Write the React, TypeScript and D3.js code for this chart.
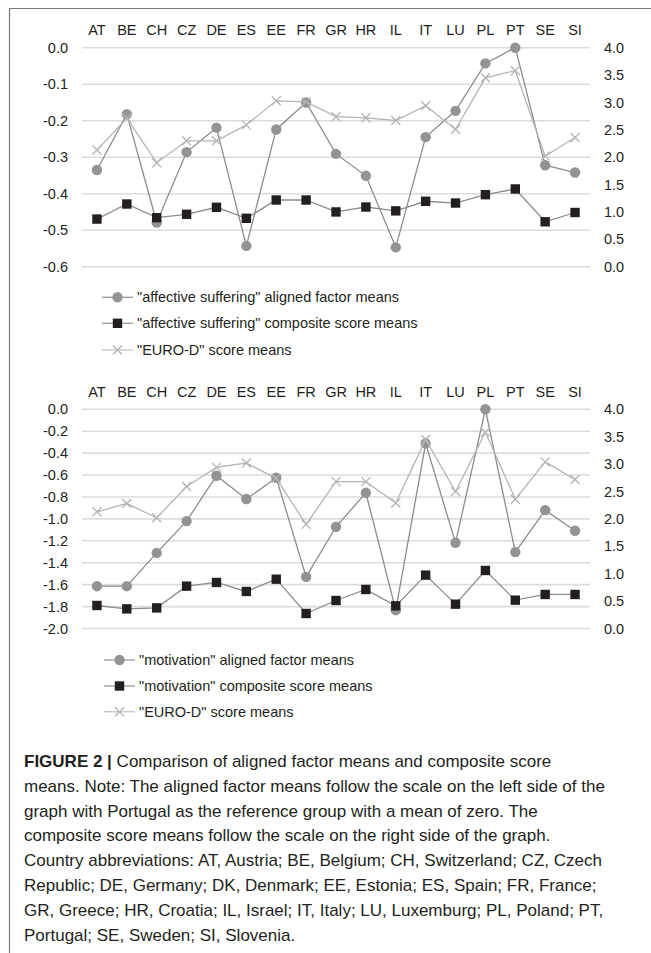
import React from 'react';
import * as d3 from 'd3';

const countries = ['AT', 'BE', 'CH', 'CZ', 'DE', 'ES', 'EE', 'FR', 'GR', 'HR', 'IL', 'IT', 'LU', 'PL', 'PT', 'SE', 'SI'];

// panel 1: "affective suffering"
const affFactor = [-0.335, -0.182, -0.479, -0.286, -0.219, -0.543, -0.224, -0.15, -0.291, -0.351, -0.547, -0.245, -0.173, -0.043, 0, -0.322, -0.342];
const affComposite = [0.87, 1.145, 0.895, 0.957, 1.085, 0.884, 1.218, 1.218, 1.0, 1.09, 1.02, 1.195, 1.163, 1.315, 1.42, 0.82, 0.99];
const affEuroD = [2.13, 2.71, 1.9, 2.3, 2.3, 2.59, 3.03, 3.01, 2.74, 2.72, 2.67, 2.94, 2.51, 3.45, 3.58, 2.02, 2.36];

// panel 2: "motivation"
const motFactor = [-1.614, -1.614, -1.31, -1.02, -0.606, -0.819, -0.625, -1.529, -1.072, -0.762, -1.833, -0.311, -1.218, 0, -1.303, -0.92, -1.108];
const motComposite = [0.42, 0.358, 0.376, 0.773, 0.84, 0.676, 0.9, 0.274, 0.511, 0.712, 0.413, 0.974, 0.444, 1.059, 0.517, 0.621, 0.621];
const motEuroD = [2.13, 2.28, 2.02, 2.59, 2.94, 3.02, 2.74, 1.9, 2.68, 2.68, 2.29, 3.45, 2.5, 3.58, 2.36, 3.04, 2.72];

const affTicks = [0, -0.1, -0.2, -0.3, -0.4, -0.5, -0.6];
const motTicks = [0, -0.2, -0.4, -0.6, -0.8, -1.0, -1.2, -1.4, -1.6, -1.8, -2.0];
const rightTicks = [0, 0.5, 1, 1.5, 2, 2.5, 3, 3.5, 4];

const affLegend = ['"affective suffering" aligned factor means', '"affective suffering" composite score means', '"EURO-D" score means'];
const motLegend = ['"motivation" aligned factor means', '"motivation" composite score means', '"EURO-D" score means'];

const captionLines = [
  'Comparison of aligned factor means and composite score',
  'means. Note: The aligned factor means follow the scale on the left side of the',
  'graph with Portugal as the reference group with a mean of zero. The',
  'composite score means follow the scale on the right side of the graph.',
  'Country abbreviations: AT, Austria; BE, Belgium; CH, Switzerland; CZ, Czech',
  'Republic; DE, Germany; DK, Denmark; EE, Estonia; ES, Spain; FR, France;',
  'GR, Greece; HR, Croatia; IL, Israel; IT, Italy; LU, Luxemburg; PL, Poland; PT,',
  'Portugal; SE, Sweden; SI, Slovenia.',
];

const FONT = '"Liberation Sans", Arial, sans-serif';
const INK = '#231f20';
const C_FACTOR = '#939393';
const C_FACTOR_LINE = '#8c8c8c';
const C_COMP_LINE = '#8c8c8c';
const C_EURO = '#b4b4b4';

const x = d3.scaleBand<string>().domain(countries).range([82, 590]);
const cx = (c: string) => (x(c) ?? 0) + x.bandwidth() / 2;

function Marker({ kind, px, py }: { kind: string; px: number; py: number }) {
  if (kind === 'circle') return <circle cx={px} cy={py} r={5.2} fill={C_FACTOR} />;
  if (kind === 'square') return <rect x={px - 4.7} y={py - 4.7} width={9.4} height={9.4} fill={INK} />;
  return (
    <path
      d={`M${px - 4.5},${py - 4.5}L${px + 4.5},${py + 4.5}M${px - 4.5},${py + 4.5}L${px + 4.5},${py - 4.5}`}
      stroke={C_EURO}
      strokeWidth={1.3}
      fill="none"
    />
  );
}

interface PanelProps {
  labelY: number;
  top: number;
  bottom: number;
  leftDomain: [number, number];
  leftTicks: number[];
  factor: number[];
  composite: number[];
  euroD: number[];
  legend: string[];
  legendYs: number[];
  legendX: number;
}

function Panel(p: PanelProps) {
  const yL = d3.scaleLinear().domain(p.leftDomain).range([p.bottom, p.top]);
  const yR = d3.scaleLinear().domain([0, 4]).range([p.bottom, p.top]);
  const line = d3.line<number>().x((_, i) => cx(countries[i]));

  const series = [
    { kind: 'circle', vals: p.factor, y: yL, stroke: C_FACTOR_LINE },
    { kind: 'square', vals: p.composite, y: yR, stroke: C_COMP_LINE },
    { kind: 'cross', vals: p.euroD, y: yR, stroke: C_EURO },
  ];

  return (
    <g>
      {p.leftTicks.map((t) => (
        <line key={'g' + t} x1={82} x2={590} y1={yL(t)} y2={yL(t)} stroke="#dcdcdc" strokeWidth={1.6} />
      ))}
      {p.leftTicks.map((t) => (
        <text key={'l' + t} x={68} y={yL(t)} dy="0.35em" textAnchor="end" fontSize={14.5} fill={INK}>
          {t.toFixed(1)}
        </text>
      ))}
      {rightTicks.map((t) => (
        <text key={'r' + t} x={604} y={yR(t)} dy="0.35em" fontSize={14.5} fill={INK}>
          {t.toFixed(1)}
        </text>
      ))}
      {countries.map((c) => (
        <text key={c} x={cx(c)} y={p.labelY} textAnchor="middle" fontSize={14.5} fill={INK}>
          {c}
        </text>
      ))}
      {series.map((s) => (
        <g key={s.kind}>
          <path d={line.y((v) => s.y(v))(s.vals) ?? ''} fill="none" stroke={s.stroke} strokeWidth={1.3} />
          {s.vals.map((v, i) => (
            <Marker key={i} kind={s.kind} px={cx(countries[i])} py={s.y(v)} />
          ))}
        </g>
      ))}
      {series.map((s, i) => (
        <g key={'lg' + i}>
          <line
            x1={p.legendX}
            x2={p.legendX + 31}
            y1={p.legendYs[i]}
            y2={p.legendYs[i]}
            stroke={i === 2 ? '#c4c4c4' : '#999'}
            strokeWidth={1.3}
          />
          <Marker kind={s.kind} px={p.legendX + 15.5} py={p.legendYs[i]} />
          <text x={p.legendX + 35} y={p.legendYs[i]} dy="0.35em" fontSize={14.5} fill={INK}>
            {p.legend[i]}
          </text>
        </g>
      ))}
    </g>
  );
}

export default function App() {
  return (
    <svg
      width={651}
      height={953}
      style={{ position: 'absolute', left: 0, top: 0, background: '#fff' }}
      fontFamily={FONT}
    >
      <rect width={651} height={953} fill="#fff" />
      <path d="M9.5,953V8.5H651" fill="none" stroke="#7a7a7a" strokeWidth={1.2} />

      <Panel
        labelY={35}
        top={47.7}
        bottom={266.7}
        leftDomain={[-0.6, 0]}
        leftTicks={affTicks}
        factor={affFactor}
        composite={affComposite}
        euroD={affEuroD}
        legend={affLegend}
        legendYs={[297.3, 323.3, 350]}
        legendX={102}
      />
      <Panel
        labelY={396.7}
        top={409.3}
        bottom={628.5}
        leftDomain={[-2, 0]}
        leftTicks={motTicks}
        factor={motFactor}
        composite={motComposite}
        euroD={motEuroD}
        legend={motLegend}
        legendYs={[660, 686, 711.7]}
        legendX={104}
      />

      {captionLines.map((l, i) => (
        <text key={i} x={24} y={767 + i * 24.8} fontSize={17} fill={INK}>
          {i === 0 ? (
            <>
              <tspan fontWeight="bold">FIGURE 2 | </tspan>
              {l}
            </>
          ) : (
            l
          )}
        </text>
      ))}
    </svg>
  );
}
